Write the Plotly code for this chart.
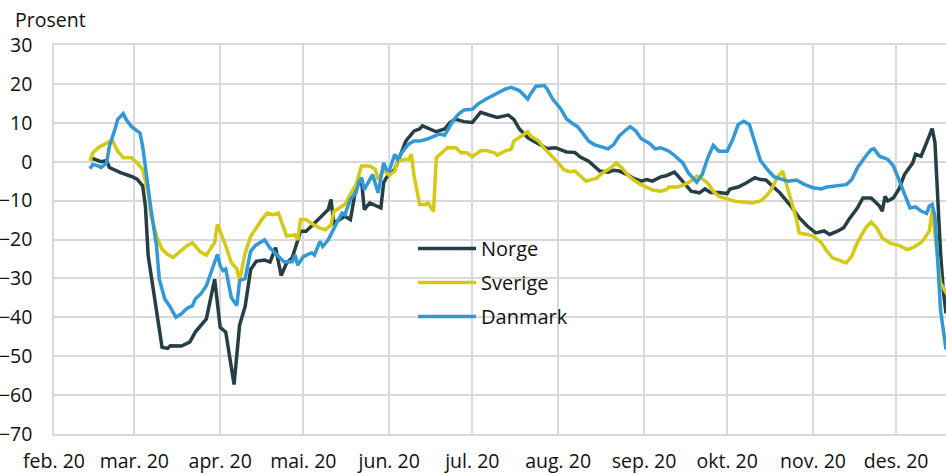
import pandas as pd
import plotly.graph_objects as go

# ---- data (7-day type series, percent) ----
start = pd.Timestamp("2020-02-01")

# days after 1 Feb 2020
norge_dag = [13, 14, 17, 19, 20, 24, 28, 30, 32, 33, 34, 36, 38, 39, 41, 42, 46, 49, 51, 55,
             58, 60, 62, 64, 65, 67, 69, 71, 73, 76, 78, 80, 82, 84, 86, 89, 91, 94, 97, 99,
             100, 101, 103, 105, 107, 108, 109, 111, 112, 114, 117, 118, 119, 120, 123, 125, 127, 130, 132, 133,
             136, 138, 141, 143, 145, 148, 151, 153, 154, 157, 160, 164, 166, 168, 171, 173, 175, 178, 181, 183,
             185, 188, 190, 193, 195, 197, 200, 202, 204, 207, 209, 212, 214, 216, 219, 221, 224, 226, 228, 230,
             233, 235, 237, 240, 243, 244, 247, 250, 253, 255, 257, 260, 262, 266, 269, 272, 275, 278, 280, 283,
             285, 287, 290, 292, 295, 298, 299, 300, 301, 303, 305, 307, 310, 311, 313, 315, 317, 318, 319, 320,
             321, 322]
norge = [0.6, 0.8, 0.0, 0.3, -1.5, -2.8, -3.8, -4.5, -6.2, -11.4, -24.2, -33.6, -43.8, -47.7, -48.0, -47.3, -47.4, -46.4, -43.8, -40.4,
         -30.2, -42.6, -43.8, -52.4, -57.3, -42.0, -37.2, -27.7, -25.6, -25.3, -25.8, -22.1, -29.3, -26.0, -24.7, -17.9, -17.9, -15.8, -13.6, -12.3,
         -9.7, -15.8, -14.9, -14.0, -14.9, -10.6, -6.7, -4.6, -12.3, -10.6, -11.5, -11.9, -5.4, -4.1, -2.0, 1.5, 5.3, 7.9, 8.4, 9.2,
         8.4, 7.7, 8.4, 10.1, 10.9, 10.3, 10.1, 11.8, 12.7, 12.0, 11.4, 12.0, 10.9, 8.4, 6.2, 5.3, 4.5, 3.4, 3.6, 3.0,
         2.5, 2.4, 1.2, 0.1, -1.2, -2.4, -2.7, -2.2, -2.4, -3.3, -4.2, -5.0, -4.6, -5.0, -3.9, -3.6, -2.7, -4.2, -5.9, -7.6,
         -8.0, -7.0, -7.9, -7.9, -8.2, -7.0, -6.5, -5.4, -4.1, -4.6, -4.7, -6.7, -8.0, -11.4, -14.4, -16.6, -18.3, -17.8, -18.7, -17.8,
         -17.0, -14.8, -11.9, -9.3, -9.3, -11.4, -12.7, -8.9, -10.1, -9.3, -7.1, -3.3, -0.3, 1.9, 1.4, 4.9, 8.5, 5.0, -10.0, -23.0,
         -33.0, -39.0]

sverige_dag = [13, 14, 16, 18, 21, 23, 25, 28, 30, 32, 34, 35, 37, 39, 41, 43, 46, 48, 50, 53,
               55, 58, 59, 61, 62, 64, 66, 67, 69, 71, 73, 75, 77, 79, 81, 83, 84, 87, 88, 89,
               91, 93, 96, 98, 100, 101, 103, 105, 107, 109, 111, 114, 116, 117, 119, 121, 123, 124, 127, 128,
               129, 130, 132, 134, 135, 137, 138, 140, 142, 145, 147, 149, 151, 154, 156, 159, 160, 163, 165, 166,
               169, 171, 172, 175, 177, 180, 182, 184, 186, 188, 190, 192, 194, 196, 198, 201, 203, 205, 207, 209,
               212, 214, 216, 219, 221, 222, 225, 227, 230, 232, 233, 236, 238, 240, 243, 246, 250, 252, 255, 257,
               259, 261, 263, 264, 266, 268, 269, 272, 274, 277, 279, 281, 284, 286, 288, 290, 293, 295, 297, 299,
               302, 305, 308, 310, 313, 314, 316, 317, 319, 320, 322]
sverige = [0.2, 2.3, 3.6, 4.4, 5.6, 2.7, 1.0, 1.0, -0.3, -2.0, -8.0, -13.9, -19.1, -22.5, -23.8, -24.6, -22.9, -21.6, -20.9, -23.3,
           -24.0, -20.8, -16.1, -19.5, -21.6, -25.9, -27.6, -30.5, -23.5, -19.2, -17.1, -14.9, -13.2, -13.6, -13.2, -17.5, -19.1, -18.8, -20.1, -14.9,
           -14.9, -15.9, -17.1, -17.5, -16.2, -12.8, -11.9, -11.0, -8.4, -5.9, -1.1, -1.1, -2.0, -4.6, -2.0, -3.5, -2.4, 0.2, 0.6, 0.6,
           1.9, -3.7, -11.0, -11.0, -10.6, -12.8, 1.0, 2.3, 3.6, 3.6, 2.3, 2.3, 1.3, 2.8, 2.9, 2.3, 1.7, 2.8, 3.2, 5.3,
           6.8, 7.7, 6.6, 5.3, 3.4, 1.3, -0.3, -2.0, -2.6, -2.4, -3.7, -5.0, -4.6, -4.2, -2.9, -1.6, -0.3, -1.6, -3.3, -4.6,
           -5.9, -6.7, -7.3, -7.6, -7.2, -6.5, -6.5, -6.1, -5.0, -3.7, -3.9, -5.5, -7.6, -8.9, -9.6, -10.2, -10.4, -10.6, -10.1, -8.9,
           -7.1, -4.1, -2.4, -4.6, -9.7, -14.8, -18.3, -18.7, -19.1, -20.8, -23.0, -24.7, -25.4, -26.0, -24.3, -20.8, -17.0, -15.5, -17.0, -19.6,
           -21.0, -21.5, -22.6, -22.1, -20.8, -20.0, -17.8, -12.3, -25.1, -31.1, -33.7]

danmark_dag = [13, 14, 16, 17, 19, 20, 22, 23, 25, 26, 28, 31, 32, 33, 35, 37, 38, 40, 42, 44,
               46, 48, 50, 51, 53, 55, 57, 59, 60, 61, 62, 64, 66, 67, 69, 71, 73, 76, 78, 81,
               83, 86, 87, 88, 90, 93, 94, 96, 97, 99, 101, 102, 104, 105, 107, 109, 110, 111, 112, 114,
               115, 117, 118, 119, 120, 121, 123, 124, 126, 128, 130, 132, 135, 137, 139, 141, 142, 144, 146, 148,
               151, 153, 156, 159, 160, 163, 165, 168, 171, 172, 174, 177, 178, 180, 183, 185, 187, 189, 191, 193,
               195, 198, 200, 202, 204, 206, 208, 210, 212, 215, 217, 219, 222, 224, 227, 229, 231, 232, 234, 236,
               238, 240, 243, 245, 247, 249, 251, 253, 255, 258, 260, 263, 265, 268, 271, 274, 277, 279, 283, 286,
               288, 290, 293, 295, 296, 298, 301, 303, 305, 307, 309, 311, 313, 315, 316, 317, 318, 319, 320, 322]
danmark = [-1.8, -0.7, -1.1, -1.5, -0.3, 4.0, 8.3, 10.9, 12.4, 10.9, 9.0, 7.4, 4.0, -2.0, -12.2, -21.6, -30.2, -35.3, -37.4, -40.0,
           -39.1, -37.7, -37.0, -35.3, -34.0, -31.9, -27.6, -23.8, -26.8, -28.0, -27.6, -34.9, -37.0, -30.6, -30.0, -23.0, -21.4, -20.1, -22.2, -24.4,
           -25.7, -25.7, -24.0, -26.6, -24.4, -23.4, -24.0, -20.5, -21.8, -20.1, -17.1, -15.8, -13.2, -13.6, -9.7, -8.0, -5.4, -4.1, -7.2, -4.6,
           -3.3, -8.0, -4.6, -0.3, -2.0, -2.4, 1.9, 0.6, 2.8, 4.5, 5.3, 5.3, 5.9, 6.6, 7.1, 6.8, 7.9, 10.5, 12.2, 13.3,
           13.5, 14.8, 16.1, 17.2, 17.4, 18.7, 19.1, 18.3, 16.1, 17.4, 19.4, 19.6, 18.7, 16.1, 13.5, 11.0, 9.9, 9.0, 7.2, 5.3,
           4.4, 3.6, 3.3, 4.4, 6.6, 7.9, 9.0, 7.9, 5.9, 4.7, 3.3, 3.6, 2.7, 1.6, -0.3, -2.9, -4.4, -5.3, -3.3, 1.0,
           4.2, 2.7, 2.7, 5.7, 9.6, 10.4, 9.6, 5.0, 0.3, -2.4, -3.9, -4.6, -5.0, -4.7, -5.9, -6.7, -7.0, -6.5, -6.1, -5.9,
           -4.6, -1.6, 1.4, 3.1, 3.3, 1.4, 0.6, -1.1, -4.6, -8.4, -11.9, -11.6, -12.7, -13.3, -11.4, -11.0, -14.0, -25.1, -38.0, -48.3]

maaneder = ["2020-02-01", "2020-03-01", "2020-04-01", "2020-05-01", "2020-06-01", "2020-07-01",
            "2020-08-01", "2020-09-01", "2020-10-01", "2020-11-01", "2020-12-01"]
maaned_tekst = ["feb. 20", "mar. 20", "apr. 20", "mai. 20", "jun. 20", "jul. 20",
                "aug. 20", "sep. 20", "okt. 20", "nov. 20", "des. 20"]


def til_dato(dager):
    return start + pd.to_timedelta(dager, unit="D")


serier = [
    ("Norge", norge_dag, norge, "#263f46"),
    ("Sverige", sverige_dag, sverige, "#d4c914"),
    ("Danmark", danmark_dag, danmark, "#3399d6"),
]

FONT = "Open Sans"
GRID = "#d9d9d9"
TXT = "#111111"

fig = go.Figure()
for navn, dager, verdier, farge in serier:
    fig.add_trace(go.Scatter(
        x=til_dato(dager), y=verdier, mode="lines", name=navn,
        legendgroup=navn,
        line=dict(color=farge, width=3.5),
    ))

# white patch behind the legend (covers the gridlines, sits under the lines)
fig.add_shape(type="rect", xref="paper", yref="paper",
              x0=(376 - 54) / 892, x1=(607 - 54) / 892,
              y0=(434 - 320) / 389, y1=(434 - 229) / 389,
              fillcolor="white", line=dict(width=0), layer="between")

fig.add_annotation(text="Prosent", xref="paper", yref="paper",
                   x=(13 - 54) / 892, y=(434 - 19) / 389, xanchor="left", yanchor="middle",
                   showarrow=False, font=dict(family=FONT, size=19.5, color=TXT))

fig.update_layout(
    width=946, height=473,
    margin=dict(l=54, r=0, t=45, b=39),
    plot_bgcolor="white", paper_bgcolor="white",
    font=dict(family=FONT, size=19.5, color=TXT),
    showlegend=True,
    legend=dict(x=(413 - 54) / 892, y=(434 - 229) / 389, xanchor="left", yanchor="top",
                bgcolor="rgba(0,0,0,0)", tracegroupgap=5,
                font=dict(family=FONT, size=20, color=TXT), itemwidth=58),
)
fig.update_xaxes(
    range=["2020-02-01", "2020-12-19"],
    tickvals=maaneder, ticktext=maaned_tekst,
    showgrid=True, gridcolor=GRID, gridwidth=1.5,
    showline=True, linecolor=GRID, linewidth=1.5, mirror=True,
    ticks="outside", ticklen=9, tickcolor="rgba(0,0,0,0)",
    zeroline=False, automargin=False,
)
fig.update_yaxes(
    range=[-70, 30], dtick=10,
    showgrid=True, gridcolor=GRID, gridwidth=1.5,
    showline=True, linecolor=GRID, linewidth=1.5,
    ticks="outside", ticklen=16, tickcolor="rgba(0,0,0,0)",
    zeroline=False, automargin=False,
)

# page has a default 8px body margin; remove it so the figure sits at 0,0
fig.write_html("out.html", config={"displayModeBar": False},
               post_script="document.body.style.margin='0';")
